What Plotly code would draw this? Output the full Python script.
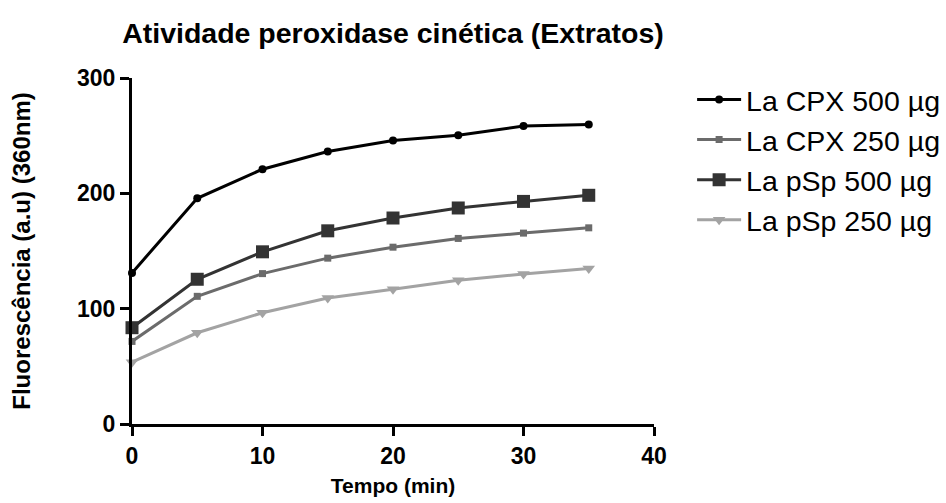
import plotly.graph_objects as go

tempo = [0, 5, 10, 15, 20, 25, 30, 35]
cpx500 = [131.0, 195.7, 220.9, 236.2, 245.8, 250.4, 258.3, 259.7]
cpx250 = [71.6, 110.7, 130.4, 143.8, 153.3, 160.9, 165.5, 170.1]
psp500 = [83.5, 125.5, 149.3, 167.5, 178.6, 187.3, 193.0, 198.3]
psp250 = [53.6, 79.1, 96.5, 109.3, 116.8, 124.6, 130.1, 134.8]

names = ["La CPX 500 µg", "La CPX 250 µg", "La pSp 500 µg", "La pSp 250 µg"]
x_ticks = [0, 10, 20, 30, 40]
y_ticks = [0, 100, 200, 300]

FONT = "Liberation Sans, Arial, sans-serif"

series = [
    (names[0], cpx500, "#000000", "circle", 8),
    (names[1], cpx250, "#6b6b6b", "square", 7),
    (names[2], psp500, "#333333", "square", 13),
    (names[3], psp250, "#a3a3a3", "triangle-down", 11),
]

fig = go.Figure()
for name, ys, color, sym, size in series:
    fig.add_trace(go.Scatter(
        x=tempo, y=ys, name=name, mode="lines+markers",
        line=dict(color=color, width=3),
        marker=dict(color=color, symbol=sym, size=size, line=dict(width=0)),
        cliponaxis=False,
    ))

fig.update_layout(
    width=946, height=503,
    margin=dict(l=132, r=292, t=78, b=79, autoexpand=False),
    plot_bgcolor="white", paper_bgcolor="white",
    font=dict(family=FONT, color="black"),
    title=dict(text="<b>Atividade peroxidase cinética (Extratos)</b>",
               x=393/946, xanchor="center", y=1-33/503, yanchor="middle",
               font=dict(size=28.5, family=FONT, color="black")),
    showlegend=True,
    legend=dict(x=1.073, xanchor="left", y=1.01, yanchor="top",
                font=dict(size=28.5, family=FONT, color="black"),
                bgcolor="rgba(0,0,0,0)", tracegroupgap=0, itemwidth=44),
)
fig.update_xaxes(
    range=[0, 40], tickvals=x_ticks, ticktext=[str(v) for v in x_ticks],
    showline=True, linecolor="black", linewidth=3,
    ticks="outside", ticklen=9, tickwidth=3, tickcolor="black",
    showgrid=False, zeroline=False,
    tickfont=dict(size=23, family=FONT, color="black", weight="bold"),
    title=dict(text="<b>Tempo (min)</b>", font=dict(size=21, family=FONT, color="black"), standoff=11),
)
fig.update_yaxes(
    range=[0, 300], tickvals=y_ticks, ticktext=[str(v) for v in y_ticks],
    showline=True, linecolor="black", linewidth=3,
    ticks="outside", ticklen=9, tickwidth=3, tickcolor="black",
    showgrid=False, zeroline=False,
    tickfont=dict(size=23, family=FONT, color="black", weight="bold"),
    title=dict(text="<b>Fluorescência (a.u) (360nm)</b>", font=dict(size=24, family=FONT, color="black"), standoff=40),
)

fig.write_html("out.html")
